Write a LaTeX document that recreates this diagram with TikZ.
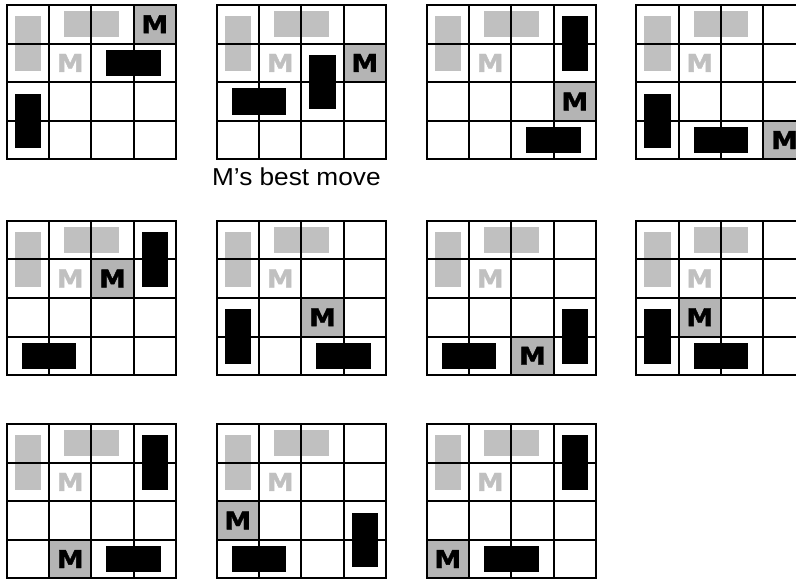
\documentclass[tikz,border=0pt]{standalone}
\usepackage{fontspec}
\usepackage{tikz}
\usetikzlibrary{positioning,calc}
\newfontfamily\mfont[FakeStretch=1.1,FakeBold=1.6]{DejaVu Sans}
\newfontfamily\capfont[FakeStretch=1.07]{Liberation Sans}
\definecolor{ghostgray}{RGB}{192,192,192}
\definecolor{mgray}{RGB}{180,180,180}
\tikzset{ gridline/.style={line width=2pt},
  vpiece/.style={minimum width=26.6pt,minimum height=54.4pt,inner sep=0pt},
  hpiece/.style={minimum width=54.4pt,minimum height=26.2pt,inner sep=0pt},
  ghost/.style={fill=ghostgray},
  blk/.style={fill=black},
  mcell/.style={fill=mgray},
  mtxt/.style={font=\mfont\bfseries\fontsize{24.5}{24.5}\selectfont,inner sep=0pt} }
% #1 origin, #2 name, #3 M cell, #4 black vertical (top cell), #5 black horizontal (left cell)
\newcommand{\mboard}[5]{%
  \begin{scope}[shift={(#1)},x=42.33pt,y=-38.6pt]
    \node[vpiece,ghost] at (.5,1) {};
    \node[hpiece,ghost] at (2,.5) {};
    \fill[mcell] (#3) rectangle +(1,1);
    \node[vpiece,blk] at ($(#4)+(.5,1)$) {};
    \node[hpiece,blk] at ($(#5)+(1,.5)$) {};
    \foreach \i in {1,2,3} {
      \draw[gridline] (\i,0) -- (\i,4);
      \draw[gridline] (0,\i) -- (4,\i);
    }
    \draw[gridline] (0,0) rectangle (4,4);
    \node[mtxt,text=ghostgray] at (1.5,1.5) {M};
    \node[mtxt] at ($(#3)+(.5,.5)$) {M};
    \coordinate (#2) at (2,4);
  \end{scope}}

\begin{document}
\begin{tikzpicture}[x=1pt,y=-1pt]
  \useasboundingbox (0,0) rectangle (796,579);
  \mboard{6.7,5}{a}{3,0}{0,2}{2,1}
  \mboard{216.7,5}{b}{3,1}{2,1}{0,2}
  \mboard{426.7,5}{c}{3,2}{3,0}{2,3}
  \mboard{636.3,5}{d}{3,3}{0,2}{1,3}
  \mboard{6.7,220.7}{e}{2,1}{3,0}{0,3}
  \mboard{216.7,220.7}{f}{2,2}{0,2}{2,3}
  \mboard{426.7,220.7}{g}{2,3}{3,2}{0,3}
  \mboard{636.3,220.7}{h}{1,2}{0,2}{1,3}
  \mboard{6.7,424}{i}{1,3}{3,0}{2,3}
  \mboard{216.7,424}{j}{0,2}{3,2}{0,3}
  \mboard{426.7,424}{k}{0,3}{3,0}{1,3}
  \node[font=\capfont\fontsize{24.5}{24.5}\selectfont,inner sep=0pt,below=8pt of b,xshift=-5pt] (best) {M’s best move};
\end{tikzpicture}
\end{document}
